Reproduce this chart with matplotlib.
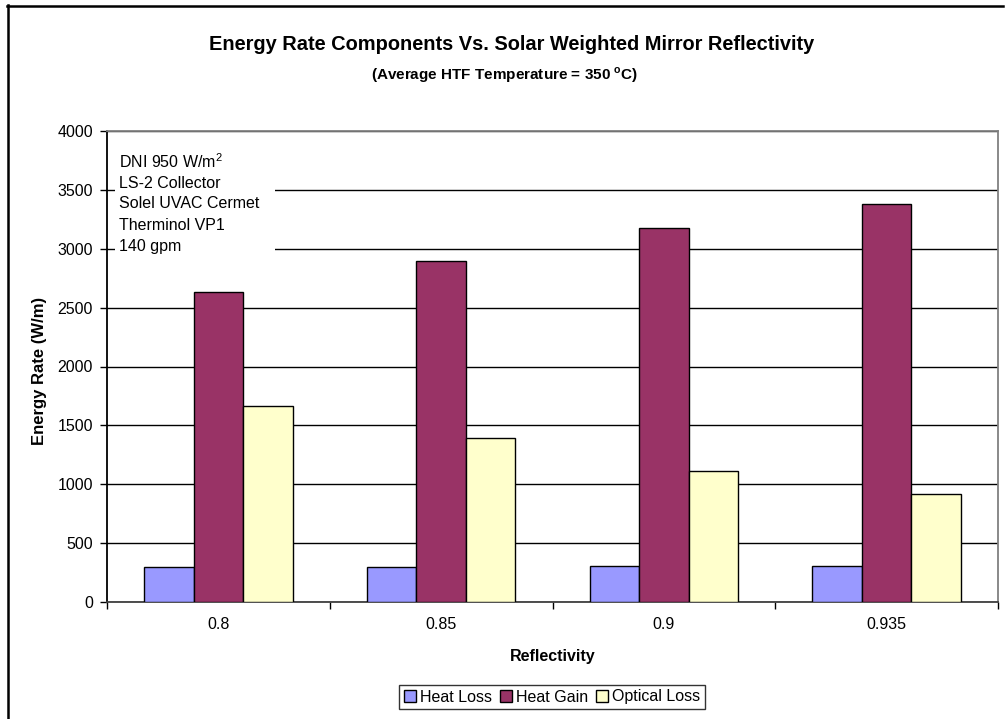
import matplotlib
matplotlib.use("Agg")
import matplotlib.pyplot as plt
import numpy as np
from matplotlib.lines import Line2D
from matplotlib.patches import Rectangle

plt.rcParams['font.family'] = ['Liberation Sans', 'DejaVu Sans']
plt.rcParams['mathtext.fontset'] = 'custom'
plt.rcParams['mathtext.rm'] = 'Liberation Sans'
plt.rcParams['mathtext.bf'] = 'Liberation Sans:bold'

categories = ["0.8", "0.85", "0.9", "0.935"]
heat_loss = [295, 298, 302, 307]
heat_gain = [2634, 2900, 3172, 3379]
optical_loss = [1668, 1392, 1111, 914]
series_names = ["Heat Loss", "Heat Gain", "Optical Loss"]
series_colors = ["#9999FF", "#993366", "#FFFFCC"]
yticks = [0, 500, 1000, 1500, 2000, 2500, 3000, 3500, 4000]
notes = ["DNI 950 W/m$^2$", "LS-2 Collector", "Solel UVAC Cermet", "Therminol VP1", "140 gpm"]

W, H = 1007, 719
fig = plt.figure(figsize=(W / 100, H / 100), dpi=100)
ax = fig.add_axes([107 / W, (H - 602) / H, 891 / W, 471 / H])

x = np.arange(len(categories))
bw = 1 / 4.5
for i, (vals, name, col) in enumerate(zip([heat_loss, heat_gain, optical_loss], series_names, series_colors)):
    ax.bar(x + (i - 1) * bw, vals, width=bw, color=col, edgecolor='black', linewidth=1.0, label=name, zorder=3)

ax.set_xlim(-0.5, len(categories) - 0.5)
ax.set_ylim(0, 4000)
ax.set_yticks(yticks)
ax.set_yticklabels([str(v) for v in yticks])
ax.yaxis.grid(True, color='black', linewidth=1.0, zorder=0)
ax.set_axisbelow(True)

ax.set_xticks(np.arange(-0.5, len(categories), 1.0))
ax.set_xticklabels([])
ax.set_xticks(x, minor=True)
ax.set_xticklabels(categories, minor=True)
ax.tick_params(axis='x', which='major', length=5, width=1, color='black', direction='out')
ax.tick_params(axis='x', which='minor', length=0, pad=11, labelsize=11.5)
ax.tick_params(axis='y', which='major', length=5, width=1, color='black', direction='out', pad=5, labelsize=11.5)

ax.spines['left'].set_color('black')
ax.spines['bottom'].set_color('#404040')
ax.spines['top'].set_color('#808080')
ax.spines['right'].set_color('#808080')
for s in ax.spines.values():
    s.set_linewidth(1.3)

ax.set_xlabel("Reflectivity", fontsize=11.5, fontweight='bold')
ax.xaxis.set_label_coords(0.5, -(657 - 602) / 471, transform=ax.transAxes)
ax.xaxis.label.set_va('center')
ax.set_ylabel("Energy Rate (W/m)", fontsize=12, fontweight='bold')
ax.yaxis.set_label_coords((40 - 107) / 891, 0.5 - (371 - 366.5) / 471, transform=ax.transAxes)
ax.yaxis.label.set_va('center')

# white box behind notes
ax.add_patch(Rectangle(((115 - 107) / 891, (602 - 268) / 471), (275 - 115) / 891, (268 - 142) / 471,
                       transform=ax.transAxes, facecolor='white', edgecolor='none', zorder=2))
for k, line in enumerate(notes):
    ax.text((119 - 107) / 891, (602 - (162 + 21 * k)) / 471, line, transform=ax.transAxes,
            fontsize=11.5, ha='left', va='center', zorder=4)

fig.text(512 / W, 1 - 45 / H, "Energy Rate Components Vs. Solar Weighted Mirror Reflectivity",
         ha='center', va='center', fontsize=14.4, fontweight='bold')
fig.text(505 / W, 1 - 75 / H, r"(Average HTF Temperature = 350 $^{\mathbf{o}}$C)",
         ha='center', va='center', fontsize=11, fontweight='bold')

leg = fig.legend(loc='center', bbox_to_anchor=(552 / W, 1 - 697 / H), ncol=3, fontsize=11.5,
                 frameon=True, fancybox=False, shadow=False, edgecolor='black',
                 handlelength=0.75, handleheight=0.75, handletextpad=0.25, columnspacing=0.5,
                 borderpad=0.3, borderaxespad=0)
leg.get_frame().set_linewidth(1.0)
for p in leg.get_patches():
    p.set_linewidth(1.0)

# outer chart border
fig.add_artist(Line2D([7.5 / W, 7.5 / W], [0, 1 - 5 / H], color='black', linewidth=1.8, transform=fig.transFigure))
fig.add_artist(Line2D([7 / W, 1003 / W], [1 - 5.5 / H, 1 - 5.5 / H], color='black', linewidth=1.8, transform=fig.transFigure))

fig.savefig("out.png", dpi=100, facecolor='white')
